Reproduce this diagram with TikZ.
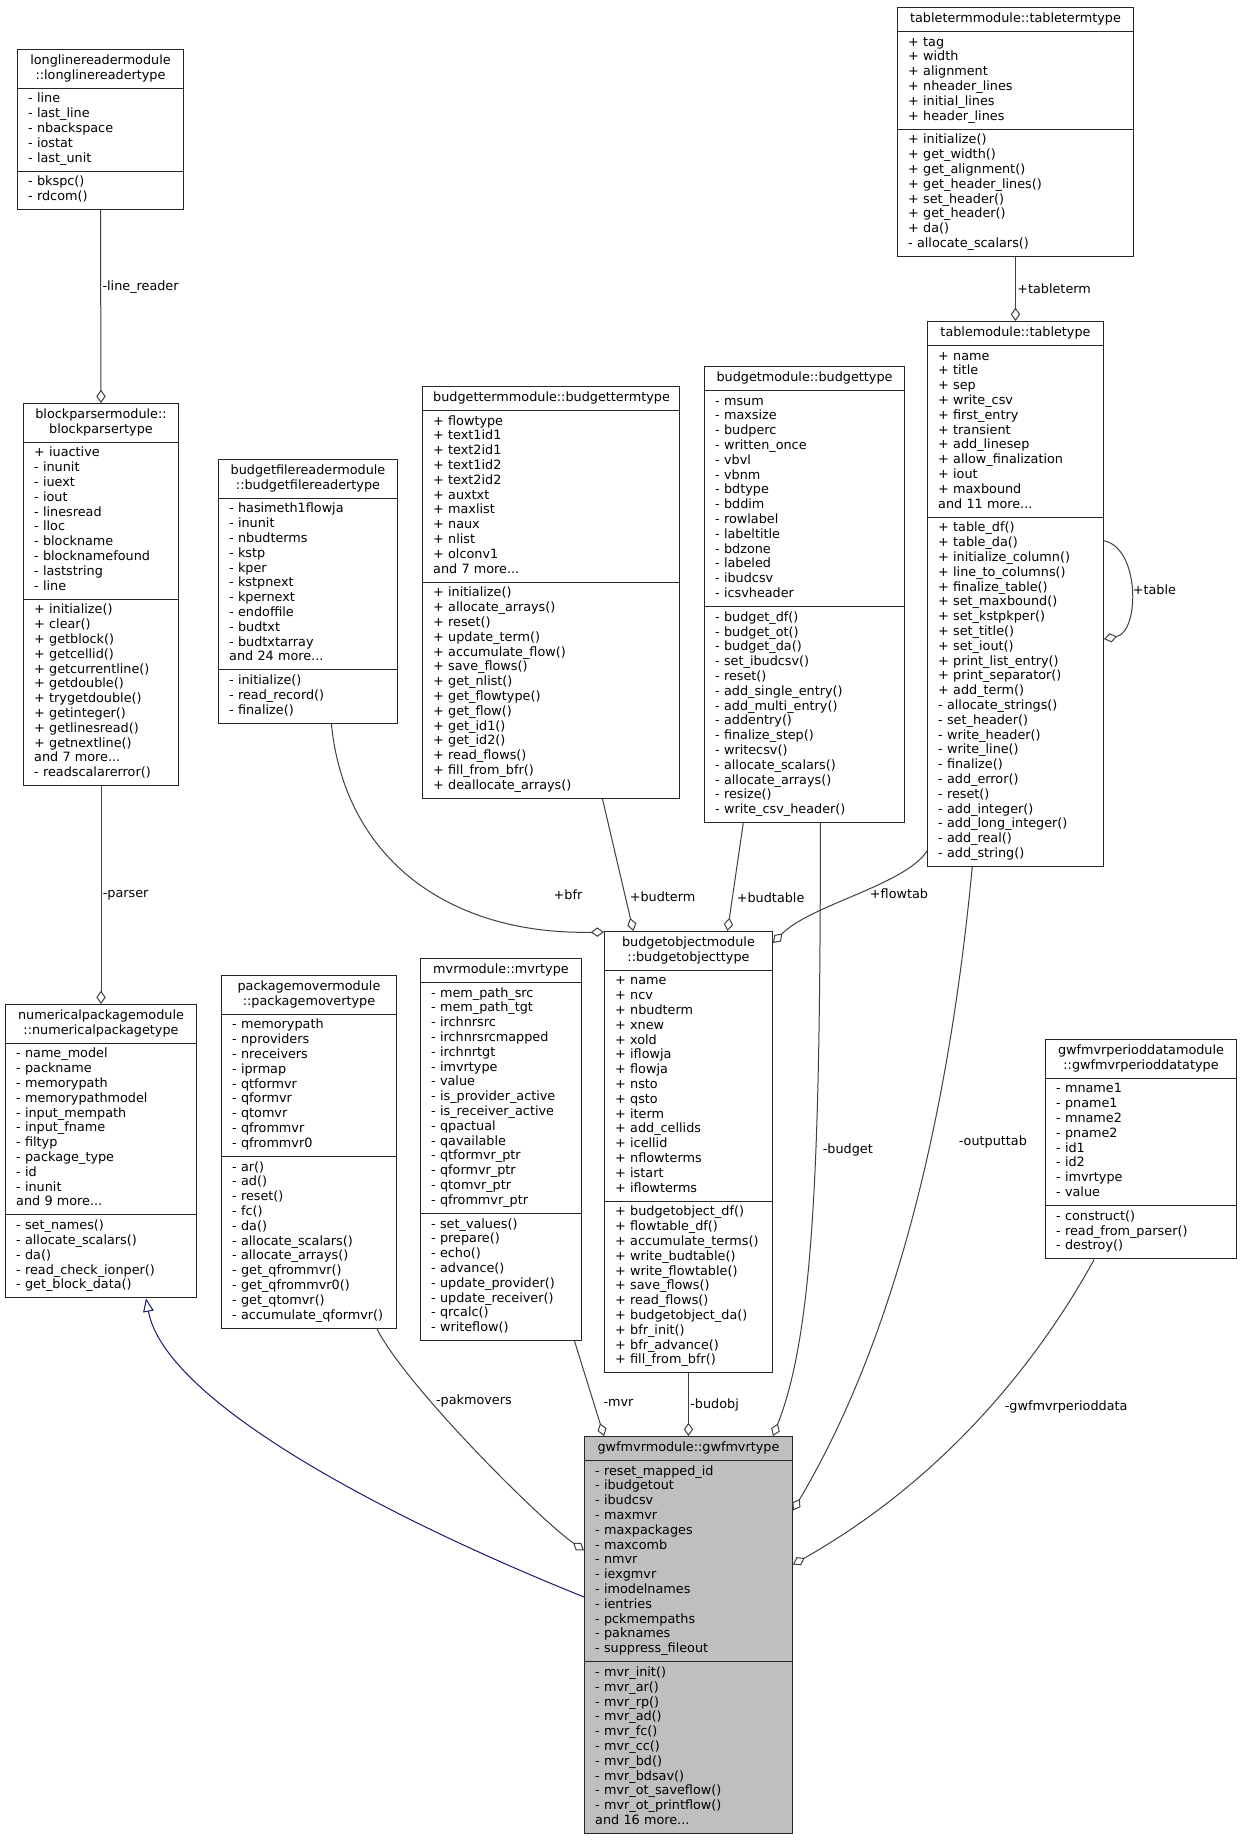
\documentclass[tikz,border=0pt]{standalone}
\usepackage{fontspec}
\setmainfont{DejaVu Sans}
\usetikzlibrary{shapes.multipart,arrows.meta,positioning}
\definecolor{edgeblue}{HTML}{191970}

\begin{document}
\begin{tikzpicture}[
  x=0.75pt, y=-0.75pt,
  cls/.style={rectangle split,rectangle split parts=3,draw=black!85,line width=0.75pt,
    anchor=north west,align=left,inner xsep=8pt,inner ysep=3pt,fill=white,
    font=\fontsize{9.6}{11.1}\selectfont},
  cur/.style={cls,fill=black!25},
  agg/.style={draw=black!75,line width=0.75pt,-{Diamond[open,length=10pt,width=7pt]}},
  inh/.style={draw=edgeblue,line width=0.75pt,-{Triangle[open,length=10pt,width=8pt]}},
  lbl/.style={font=\fontsize{9.6}{11.1}\selectfont,inner sep=1pt}
]
\path[use as bounding box,fill=white] (0,0) rectangle (1243,1843);

\node[cls,text width=108.5pt] (linereader) at (17,49)
  {\centering\strut longlinereadermodule\\::longlinereadertype\strut\par
   \nodepart{two}\strut- line\\- last\_line\\- nbackspace\\- iostat\\- last\_unit\strut
   \nodepart{three}\strut- bkspc()\\- rdcom()\strut};
\node[cls,text width=100.25pt] (parser) at (23,403)
  {\centering\strut blockparsermodule::\\blockparsertype\strut\par
   \nodepart{two}\strut+ iuactive\\- inunit\\- iuext\\- iout\\- linesread\\- lloc\\- blockname\\
   - blocknamefound\\- laststring\\- line\strut
   \nodepart{three}\strut+ initialize()\\+ clear()\\+ getblock()\\+ getcellid()\\+ getcurrentline()\\
   + getdouble()\\+ trygetdouble()\\+ getinteger()\\+ getlinesread()\\+ getnextline()\\
   and 7 more...\\- readscalarerror()\strut};
\node[cls,text width=127.25pt] (numpkg) at (5,1004)
  {\centering\strut numericalpackagemodule\\::numericalpackagetype\strut\par
   \nodepart{two}\strut- name\_model\\- packname\\- memorypath\\- memorypathmodel\\- input\_mempath\\
   - input\_fname\\- filtyp\\- package\_type\\- id\\- inunit\\and 9 more...\strut
   \nodepart{three}\strut- set\_names()\\- allocate\_scalars()\\- da()\\- read\_check\_ionper()\\
   - get\_block\_data()\strut};
\node[cls,text width=118.25pt] (bfreader) at (218,459)
  {\centering\strut budgetfilereadermodule\\::budgetfilereadertype\strut\par
   \nodepart{two}\strut- hasimeth1flowja\\- inunit\\- nbudterms\\- kstp\\- kper\\- kstpnext\\
   - kpernext\\- endoffile\\- budtxt\\- budtxtarray\\and 24 more...\strut
   \nodepart{three}\strut- initialize()\\- read\_record()\\- finalize()\strut};
\node[cls,text width=115.25pt] (pkgmover) at (221,975)
  {\centering\strut packagemovermodule\\::packagemovertype\strut\par
   \nodepart{two}\strut- memorypath\\- nproviders\\- nreceivers\\- iprmap\\- qtformvr\\- qformvr\\
   - qtomvr\\- qfrommvr\\- qfrommvr0\strut
   \nodepart{three}\strut- ar()\\- ad()\\- reset()\\- fc()\\- da()\\- allocate\_scalars()\\
   - allocate\_arrays()\\- get\_qfrommvr()\\- get\_qfrommvr0()\\- get\_qtomvr()\\
   - accumulate\_qformvr()\strut};
\node[cls,text width=104.75pt] (mvr) at (420,958)
  {\centering\strut mvrmodule::mvrtype\strut\par
   \nodepart{two}\strut- mem\_path\_src\\- mem\_path\_tgt\\- irchnrsrc\\- irchnrsrcmapped\\- irchnrtgt\\
   - imvrtype\\- value\\- is\_provider\_active\\- is\_receiver\_active\\- qpactual\\- qavailable\\
   - qtformvr\_ptr\\- qformvr\_ptr\\- qtomvr\_ptr\\- qfrommvr\_ptr\strut
   \nodepart{three}\strut- set\_values()\\- prepare()\\- echo()\\- advance()\\- update\_provider()\\
   - update\_receiver()\\- qrcalc()\\- writeflow()\strut};
\node[cls,text width=176.75pt] (budterm) at (422,386)
  {\centering\strut budgettermmodule::budgettermtype\strut\par
   \nodepart{two}\strut+ flowtype\\+ text1id1\\+ text2id1\\+ text1id2\\+ text2id2\\+ auxtxt\\
   + maxlist\\+ naux\\+ nlist\\+ olconv1\\and 7 more...\strut
   \nodepart{three}\strut+ initialize()\\+ allocate\_arrays()\\+ reset()\\+ update\_term()\\
   + accumulate\_flow()\\+ save\_flows()\\+ get\_nlist()\\+ get\_flowtype()\\+ get\_flow()\\
   + get\_id1()\\+ get\_id2()\\+ read\_flows()\\+ fill\_from\_bfr()\\+ deallocate\_arrays()\strut};
\node[cls,text width=134pt] (budget) at (704,366)
  {\centering\strut budgetmodule::budgettype\strut\par
   \nodepart{two}\strut- msum\\- maxsize\\- budperc\\- written\_once\\- vbvl\\- vbnm\\- bdtype\\
   - bddim\\- rowlabel\\- labeltitle\\- bdzone\\- labeled\\- ibudcsv\\- icsvheader\strut
   \nodepart{three}\strut- budget\_df()\\- budget\_ot()\\- budget\_da()\\- set\_ibudcsv()\\- reset()\\
   - add\_single\_entry()\\- add\_multi\_entry()\\- addentry()\\- finalize\_step()\\- writecsv()\\
   - allocate\_scalars()\\- allocate\_arrays()\\- resize()\\- write\_csv\_header()\strut};
\node[cls,text width=110pt] (budobj) at (604,931)
  {\centering\strut budgetobjectmodule\\::budgetobjecttype\strut\par
   \nodepart{two}\strut+ name\\+ ncv\\+ nbudterm\\+ xnew\\+ xold\\+ iflowja\\+ flowja\\+ nsto\\
   + qsto\\+ iterm\\+ add\_cellids\\+ icellid\\+ nflowterms\\+ istart\\+ iflowterms\strut
   \nodepart{three}\strut+ budgetobject\_df()\\+ flowtable\_df()\\+ accumulate\_terms()\\
   + write\_budtable()\\+ write\_flowtable()\\+ save\_flows()\\+ read\_flows()\\
   + budgetobject\_da()\\+ bfr\_init()\\+ bfr\_advance()\\+ fill\_from\_bfr()\strut};
\node[cls,text width=161pt] (tabterm) at (897,7)
  {\centering\strut tabletermmodule::tabletermtype\strut\par
   \nodepart{two}\strut+ tag\\+ width\\+ alignment\\+ nheader\_lines\\+ initial\_lines\\
   + header\_lines\strut
   \nodepart{three}\strut+ initialize()\\+ get\_width()\\+ get\_alignment()\\+ get\_header\_lines()\\
   + set\_header()\\+ get\_header()\\+ da()\\- allocate\_scalars()\strut};
\node[cls,text width=116pt] (table) at (927,321)
  {\centering\strut tablemodule::tabletype\strut\par
   \nodepart{two}\strut+ name\\+ title\\+ sep\\+ write\_csv\\+ first\_entry\\+ transient\\
   + add\_linesep\\+ allow\_finalization\\+ iout\\+ maxbound\\and 11 more...\strut
   \nodepart{three}\strut+ table\_df()\\+ table\_da()\\+ initialize\_column()\\+ line\_to\_columns()\\
   + finalize\_table()\\+ set\_maxbound()\\+ set\_kstpkper()\\+ set\_title()\\+ set\_iout()\\
   + print\_list\_entry()\\+ print\_separator()\\+ add\_term()\\- allocate\_strings()\\
   - set\_header()\\- write\_header()\\- write\_line()\\- finalize()\\- add\_error()\\- reset()\\
   - add\_integer()\\- add\_long\_integer()\\- add\_real()\\- add\_string()\strut};
\node[cls,text width=127.25pt] (perdata) at (1045,1039)
  {\centering\strut\makebox[\linewidth]{gwfmvrperioddatamodule}\\
   \makebox[\linewidth]{::gwfmvrperioddatatype}\strut\par
   \nodepart{two}\strut- mname1\\- pname1\\- mname2\\- pname2\\- id1\\- id2\\- imvrtype\\- value\strut
   \nodepart{three}\strut- construct()\\- read\_from\_parser()\\- destroy()\strut};
\node[cur,text width=140pt] (gwfmvr) at (584,1436)
  {\centering\strut gwfmvrmodule::gwfmvrtype\strut\par
   \nodepart{two}\strut- reset\_mapped\_id\\- ibudgetout\\- ibudcsv\\- maxmvr\\- maxpackages\\
   - maxcomb\\- nmvr\\- iexgmvr\\- imodelnames\\- ientries\\- pckmempaths\\- paknames\\
   - suppress\_fileout\strut
   \nodepart{three}\strut- mvr\_init()\\- mvr\_ar()\\- mvr\_rp()\\- mvr\_ad()\\- mvr\_fc()\\- mvr\_cc()\\
   - mvr\_bd()\\- mvr\_bdsav()\\- mvr\_ot\_saveflow()\\- mvr\_ot\_printflow()\\and 16 more...\strut};

\draw[agg] (linereader.south) -- node[lbl,right,pos=.4] {-line\_reader} (parser.north);
\draw[agg] (parser.south) -- node[lbl,right,pos=.5] {-parser} (numpkg.north);
\draw[inh] (gwfmvr.160) .. controls (380,1515) and (165,1400) .. (numpkg.-73);
\draw[agg] (pkgmover.-69) .. controls (405,1385) and (540,1520) .. node[lbl,right=3pt,pos=.32] {-pakmovers} (gwfmvr.141);
\draw[agg] (mvr.-69) -- node[lbl,right=6pt,pos=.65] {-mvr} (gwfmvr.113);
\draw[agg] (budobj.south) -- node[lbl,right,pos=.5] {-budobj} (gwfmvr.north);
\draw[agg] (budget.-86) .. controls (820,1150) and (815,1330) .. node[lbl,right=4pt,pos=.4] {-budget} (gwfmvr.67);
\draw[agg] (table.-99) .. controls (950,1100) and (900,1330) .. node[lbl,right=20pt,pos=.4] {-outputtab} (gwfmvr.50);
\draw[agg] (perdata.-113) .. controls (1050,1340) and (960,1470) .. node[lbl,right=10pt,pos=.5] {-gwfmvrperioddata} (gwfmvr.34);
\draw[agg] (bfreader.-80) .. controls (345,860) and (450,935) .. node[lbl,above=22pt,pos=.92] {+bfr} (budobj.111);
\draw[agg] (budterm.-76) -- node[lbl,right=2pt,pos=.74] {+budterm} (budobj.104);
\draw[agg] (budget.-105) -- node[lbl,right=2pt,pos=.69] {+budtable} (budobj.80);
\draw[agg] (table.-109) .. controls (905,885) and (810,905) .. node[lbl,below=6pt,xshift=6pt,pos=.3] {+flowtab} (budobj.68);
\draw[agg] (tabterm.south) -- node[lbl,right,pos=.5] {+tableterm} (table.north);
\draw[agg] (table.31) .. controls (1140,548) and (1140,632) .. node[lbl,right,pos=.5] {+table} (table.-27);
\end{tikzpicture}
\end{document}
